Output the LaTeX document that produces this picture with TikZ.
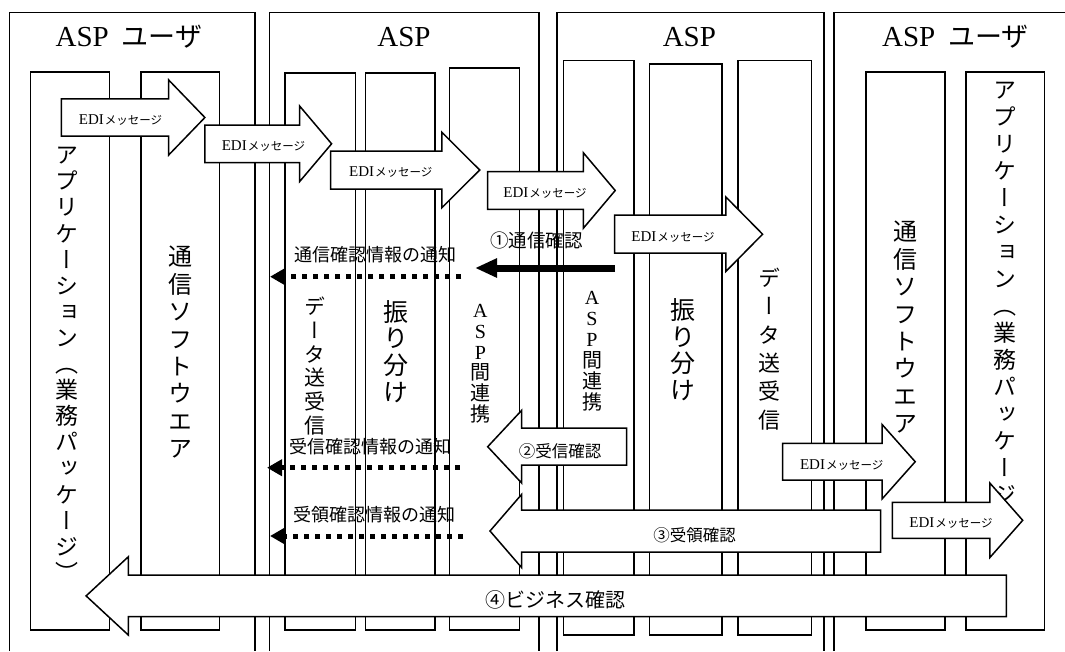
\documentclass[tikz,border=0pt]{standalone}
\usepackage{fontspec}
\setmainfont{Liberation Serif}
\newfontfamily\jp{Noto Sans CJK JP}
\newfontfamily\jpv[RawFeature=+vert]{Noto Sans CJK JP}
\usetikzlibrary{arrows.meta}
\makeatletter
\newlength\vpitch
\newcommand\vcol[2]{\vpitch=#1\relax
  \vbox{\offinterlineskip\@tfor\vch:=#2\do{%
    \vbox to\vpitch{\vfil\hbox to 0pt{\hss\smash{\vch}\hss}\vskip\dimexpr0.5\vpitch-0.38em\relax}}}}
\makeatother
\newcommand\blockarrow[6]{\draw[blk] (#1,#4-#5) -- (#2,#4-#5) -- (#2,#4-#6) -- (#3,#4) -- (#2,#4+#6) -- (#2,#4+#5) -- (#1,#4+#5) -- cycle;}
\newcommand\edimsg{{\fontsize{15}{15}\selectfont EDI}\hspace{1pt}{\jp\fontsize{11.5}{11.5}\selectfont メッセージ}}
\tikzset{
  frame/.style={line width=1.6pt},
  col/.style={line width=1.5pt},
  blk/.style={line width=1.5pt, fill=white, line join=miter},
  vlab/.style={inner sep=0pt, outer sep=0pt, anchor=north},
  title/.style={inner sep=0pt, anchor=base, font=\fontsize{29}{29}\selectfont},
  lab/.style={inner sep=0pt},
  notice/.style={line width=5pt, dash pattern=on 5pt off 6pt, -{Triangle[length=15pt,width=16pt]}},
  solidarr/.style={line width=7pt, -{Triangle[length=22pt,width=18pt]}},
}
\begin{document}
\begin{tikzpicture}[x=1pt,y=-1pt]
\useasboundingbox (0,0) rectangle (1065,651);
\fill[white] (0,0) rectangle (1065,651);
% panels
\draw[frame] (9.3,651) -- (9.3,12.4) -- (254.8,12.4) -- (254.8,651);
\draw[frame] (269.6,651) -- (269.6,12.4) -- (538.8,12.4) -- (538.8,651);
\draw[frame] (557,651) -- (557,12.4) -- (823.9,12.4) -- (823.9,651);
\draw[frame] (833.9,651) -- (833.9,12.4) -- (1065,12.4);
% titles
\node[title] (t1) at (129,46.7) {ASP\hspace{13pt}{\jp\fontsize{27}{27}\selectfont ユーザ}};
\node[title] (t2) at (404,46.7) {ASP};
\node[title] (t3) at (689.4,46.7) {ASP};
\node[title] (t4) at (955.4,46.7) {ASP\hspace{13pt}{\jp\fontsize{27}{27}\selectfont ユーザ}};
% columns
\draw[col] (30.3,72) rectangle (109.5,630);
\draw[col] (141.2,72) rectangle (219.4,630);
\draw[col] (285.1,73) rectangle (355.4,630);
\draw[col] (365.7,73) rectangle (434.9,630);
\draw[col] (449.4,68) rectangle (519.3,630);
\draw[col] (563.6,60.3) rectangle (634.2,635);
\draw[col] (649.7,64) rectangle (722,635);
\draw[col] (737.8,60.3) rectangle (811.5,635);
\draw[col] (865.9,72) rectangle (945.1,630);
\draw[col] (965.8,72) rectangle (1044.3,630);
% column texts
\node[vlab, font=\jpv\fontsize{23}{23}\selectfont] (vA) at (67.2,155-13.05) {\vcol{26.1pt}{アプリケーション（業務パッケージ）}};
\node[vlab, font=\jpv\fontsize{24}{24}\selectfont] (vB) at (180.8,256.7-13.7) {\vcol{27.4pt}{通信ソフトウエア}};
\node[vlab, font=\jpv\fontsize{21}{21}\selectfont] (vC) at (315,306.7-11.85) {\vcol{23.7pt}{データ送受信}};
\node[vlab, font=\jpv\fontsize{25}{25}\selectfont] (vD) at (396,311.7-13.35) {\vcol{26.7pt}{振り分け}};
\node[vlab, font=\jpv\fontsize{20}{20}\selectfont] (vE) at (480.4,310-10.35) {\vcol{20.7pt}{{\rmfamily A}{\rmfamily S}{\rmfamily P}間連携}};
\node[vlab, font=\jpv\fontsize{20}{20}\selectfont] (vF) at (592,296.7-10.5) {\vcol{21pt}{{\rmfamily A}{\rmfamily S}{\rmfamily P}間連携}};
\node[vlab, font=\jpv\fontsize{25}{25}\selectfont] (vG) at (683.4,310-13.35) {\vcol{26.7pt}{振り分け}};
\node[vlab, font=\jpv\fontsize{22}{22}\selectfont] (vH) at (769.5,278.3-14.15) {\vcol{28.3pt}{データ送受信}};
\node[vlab, font=\jpv\fontsize{24}{24}\selectfont] (vI) at (905.5,231.7-13.7) {\vcol{27.4pt}{通信ソフトウエア}};
\node[vlab, font=\jpv\fontsize{23}{23}\selectfont] (vJ) at (1005,90-13.5) {\vcol{27pt}{アプリケーション（業務パッケージ）}};
% EDI message arrows
\blockarrow{61.3}{168.7}{204.9}{117.5}{18.7}{37.5}
\node[lab] (m1) at (120.5,120) {\edimsg};
\blockarrow{204.9}{299.6}{331.6}{143.8}{18.8}{37.8}
\node[lab] (m2) at (263.4,146.5) {\edimsg};
\blockarrow{330.6}{441.8}{479.7}{170}{19}{37.8}
\node[lab] (m3) at (390.8,172.5) {\edimsg};
\blockarrow{487.5}{583.3}{615.2}{190.5}{18.8}{37.8}
\node[lab] (m4) at (545,193) {\edimsg};
\blockarrow{614.5}{725.8}{762.6}{234.2}{19}{37.3}
\node[lab] (m5) at (673,237.5) {\edimsg};
\blockarrow{782.6}{882.1}{915.2}{461.7}{18.3}{37.2}
\node[lab] (m6) at (841.7,465) {\edimsg};
\blockarrow{892.4}{989.9}{1022.7}{520.3}{18}{37.2}
\node[lab] (m7) at (951,523.5) {\edimsg};
% confirmation arrows (leftward)
\blockarrow{626.6}{521.7}{487.7}{446.7}{18.5}{36.4}
\node[lab, font=\jp\fontsize{16.5}{16.5}\selectfont] (l2) at (560,451.7) {②受信確認};
\blockarrow{880.7}{521.7}{490}{531}{21}{36.7}
\node[lab, font=\jp\fontsize{16.5}{16.5}\selectfont] (l3) at (694.6,535) {③受領確認};
\blockarrow{1006.4}{128.4}{86.1}{595.9}{20.8}{39.2}
\node[lab, font=\jp\fontsize{20}{20}\selectfont] (l4) at (555,600) {④ビジネス確認};
% communication confirmation
\coordinate (s1) at (615,268);
\coordinate (s2) at (475,268);
\draw[solidarr] (s1) -- (s2);
\node[lab, font=\jp\fontsize{18.5}{18.5}\selectfont] (l1) at (536.5,240) {①通信確認};
% notifications
\coordinate (n1a) at (461.4,276.7);
\coordinate (n1b) at (270,276.7);
\draw[notice] (n1a) -- (n1b);
\node[lab, font=\jp\fontsize{18}{18}\selectfont] (k1) at (375,255) {通信確認情報の通知};
\coordinate (n2a) at (459.7,467.7);
\coordinate (n2b) at (267,467.7);
\draw[notice] (n2a) -- (n2b);
\node[lab, font=\jp\fontsize{18}{18}\selectfont] (k2) at (370,447) {受信確認情報の通知};
\coordinate (n3a) at (463,536);
\coordinate (n3b) at (270,536);
\draw[notice] (n3a) -- (n3b);
\node[lab, font=\jp\fontsize{18}{18}\selectfont] (k3) at (374.5,515) {受領確認情報の通知};
\end{tikzpicture}
\end{document}
